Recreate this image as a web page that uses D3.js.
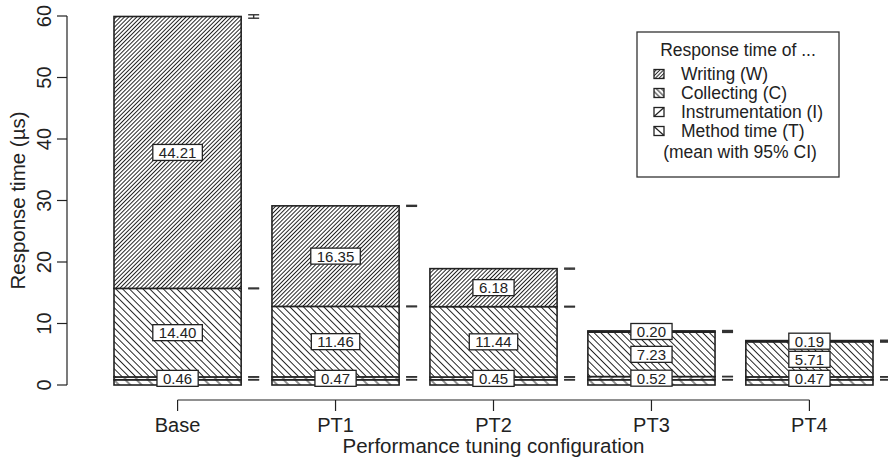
<!DOCTYPE html>
<html><head><meta charset="utf-8">
<script src="https://cdn.jsdelivr.net/npm/d3@7"></script>
<style>
body{margin:0;background:#fff}
text{font-family:"Liberation Sans",Arial,Helvetica,sans-serif;fill:#222}
</style>
</head><body>
<svg id="chart" width="888" height="459"></svg>
<script>
// ---- data ----
const categories = ["Base", "PT1", "PT2", "PT3", "PT4"];
const methodTime = [0.85, 0.85, 0.85, 0.85, 0.85];
const instrumentation = [0.46, 0.47, 0.45, 0.52, 0.47];
const collecting = [14.40, 11.46, 11.44, 7.23, 5.71];
const writing = [44.21, 16.35, 6.18, 0.20, 0.19];
// half width of 95% CI at each cumulative level
const ciMethod = [0.03, 0.03, 0.03, 0.03, 0.03];
const ciInstr = [0.03, 0.03, 0.03, 0.03, 0.03];
const ciCollect = [0.06, 0.06, 0.06, 0.05, 0.05];
const ciWrite = [0.28, 0.08, 0.08, 0.06, 0.06];
const yTicks = [0, 10, 20, 30, 40, 50, 60];
const legendTitle = "Response time of ...";
const legendNames = ["Writing (W)", "Collecting (C)", "Instrumentation (I)", "Method time (T)"];
const legendNote = "(mean with 95% CI)";
const xTitle = "Performance tuning configuration";
const yTitle = "Response time (\u00b5s)";

const svg = d3.select("#chart");
const x = d3.scaleBand().domain(categories).range([114, 873]).paddingInner(0.195).paddingOuter(0);
const y = d3.scaleLinear().domain([0, 60]).range([385, 16]);
const ink = "#222";

// ---- patterns ----
const defs = svg.append("defs");
function hatch(id, angle, spacing, w, tx, ty) {
  const p = defs.append("pattern").attr("id", id).attr("patternUnits", "userSpaceOnUse")
    .attr("width", spacing).attr("height", spacing)
    .attr("patternTransform", `translate(${tx || 0},${ty || 0}) rotate(${angle})`);
  p.append("rect").attr("width", spacing).attr("height", spacing).attr("fill", "#fff");
  p.append("line").attr("x1", spacing / 2).attr("x2", spacing / 2).attr("y1", -1).attr("y2", spacing + 1)
    .attr("stroke", ink).attr("stroke-width", w);
}
hatch("pW", 45, 2.9, 1.0);
hatch("pC", -45, 4.8, 1.0);
hatch("pI", 45, 8, 1.0);
hatch("pT", -45, 8, 1.0);
hatch("lW", 45, 2.6, 1.0);
hatch("lC", -45, 3.6, 1.0);
const fills = ["url(#pT)", "url(#pI)", "url(#pC)", "url(#pW)"];

// ---- stacked layers ----
const layers = [methodTime, instrumentation, collecting, writing];
const cis = [ciMethod, ciInstr, ciCollect, ciWrite];
categories.forEach((c, i) => {
  let base = 0;
  const g = svg.append("g");
  layers.forEach((arr, k) => {
    const v = arr[i];
    g.append("rect").attr("x", x(c)).attr("width", x.bandwidth())
      .attr("y", y(base + v)).attr("height", y(base) - y(base + v))
      .attr("fill", fills[k]).attr("stroke", ink).attr("stroke-width", 1.6);
    base += v;
  });
});

// ---- CI markers ----
categories.forEach((c, i) => {
  let cum = 0;
  const x1 = x(c) + x.bandwidth() + 7, x2 = x1 + 11, xm = (x1 + x2) / 2;
  layers.forEach((arr, k) => {
    cum += arr[i];
    const ci = cis[k][i];
    const g = svg.append("g").attr("stroke", "#333").attr("stroke-width", 1.4);
    g.append("line").attr("x1", x1).attr("x2", x2).attr("y1", y(cum + ci)).attr("y2", y(cum + ci));
    g.append("line").attr("x1", x1).attr("x2", x2).attr("y1", y(cum - ci)).attr("y2", y(cum - ci));
    g.append("line").attr("x1", xm).attr("x2", xm).attr("y1", y(cum + ci)).attr("y2", y(cum - ci));
  });
});

// ---- value labels ----
categories.forEach((c, i) => {
  const cx = x(c) + x.bandwidth() / 2;
  let cum = 0;
  layers.forEach((arr, k) => {
    const v = arr[i];
    const mid = cum + v / 2;
    cum += v;
    if (k === 0) return;
    const g = svg.append("g");
    const t = g.append("text").attr("x", cx).attr("y", y(mid) + 5.5).attr("text-anchor", "middle")
      .attr("font-size", 15).text(v.toFixed(2));
    const w = t.node().getComputedTextLength();
    g.insert("rect", "text").attr("x", cx - w / 2 - 6).attr("width", w + 12)
      .attr("y", y(mid) - 8).attr("height", 16).attr("fill", "#fff").attr("stroke", ink).attr("stroke-width", 1.3);
  });
});

// ---- y axis ----
const ya = svg.append("g");
ya.append("line").attr("x1", 67).attr("x2", 67).attr("y1", y(0)).attr("y2", y(60)).attr("stroke", ink).attr("stroke-width", 1.2);
yTicks.forEach(t => {
  ya.append("line").attr("x1", 57).attr("x2", 67).attr("y1", y(t)).attr("y2", y(t)).attr("stroke", ink).attr("stroke-width", 1.2);
  ya.append("text").attr("transform", `translate(51,${y(t)}) rotate(-90)`).attr("text-anchor", "middle")
    .attr("font-size", 20).text(t);
});
svg.append("text").attr("transform", `translate(25,${(y(0) + y(60)) / 2}) rotate(-90)`).attr("text-anchor", "middle")
  .attr("font-size", 20.5).text(yTitle);

// ---- x axis ----
const xa = svg.append("g");
const cxs = categories.map(c => x(c) + x.bandwidth() / 2);
xa.append("line").attr("x1", cxs[0]).attr("x2", cxs[cxs.length - 1]).attr("y1", 400).attr("y2", 400).attr("stroke", ink).attr("stroke-width", 1.2);
categories.forEach((c, i) => {
  xa.append("line").attr("x1", cxs[i]).attr("x2", cxs[i]).attr("y1", 400).attr("y2", 411).attr("stroke", ink).attr("stroke-width", 1.2);
  xa.append("text").attr("x", cxs[i]).attr("y", 432).attr("text-anchor", "middle").attr("font-size", 20).text(c);
});
svg.append("text").attr("x", (cxs[0] + cxs[cxs.length - 1]) / 2).attr("y", 453).attr("text-anchor", "middle")
  .attr("font-size", 20.5).text(xTitle);

// ---- legend ----
const lg = svg.append("g");
lg.append("rect").attr("x", 637).attr("y", 32).attr("width", 202).attr("height", 145)
  .attr("fill", "#fff").attr("stroke", "#333").attr("stroke-width", 1.3);
lg.append("text").attr("x", 738).attr("y", 56).attr("text-anchor", "middle").attr("font-size", 17.5).text(legendTitle);
const legendFills = ["url(#lW)", "url(#lC)", "#fff", "#fff"];
const legendDiag = [null, null, "up", "down"];
legendNames.forEach((n, i) => {
  const cy = 74 + i * 19;
  const bx = 654, by = cy - 4.5, bw = 10, bh = 9;
  lg.append("rect").attr("x", bx).attr("y", by).attr("width", bw).attr("height", bh)
    .attr("fill", legendFills[i]).attr("stroke", ink).attr("stroke-width", 1.3);
  if (legendDiag[i] === "up") {
    lg.append("line").attr("x1", bx).attr("y1", by + bh).attr("x2", bx + bw).attr("y2", by)
      .attr("stroke", ink).attr("stroke-width", 1.2);
  } else if (legendDiag[i] === "down") {
    lg.append("line").attr("x1", bx).attr("y1", by).attr("x2", bx + bw).attr("y2", by + bh)
      .attr("stroke", ink).attr("stroke-width", 1.2);
  }
  lg.append("text").attr("x", 681).attr("y", cy + 6).attr("font-size", 17.5).text(n);
});
lg.append("text").attr("x", 740).attr("y", 158).attr("text-anchor", "middle").attr("font-size", 17.5).text(legendNote);
</script>
</body></html>
